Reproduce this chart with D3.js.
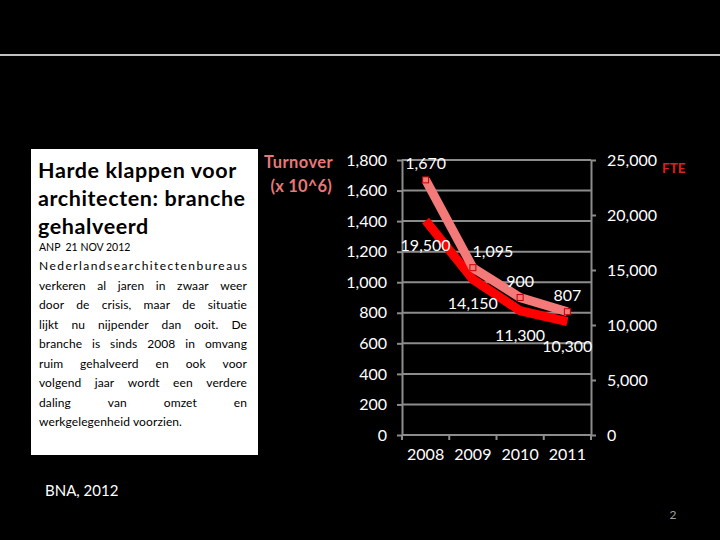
<!DOCTYPE html>
<html>
<head>
<meta charset="utf-8">
<script src="https://cdn.jsdelivr.net/npm/d3@7"></script>
<style>
  body { margin: 0; background: #000; }
  svg { display: block; }
  text { font-family: Lato, "Open Sans", sans-serif; }
</style>
</head>
<body>
<div id="chart"></div>
<script>
var width = 720,
    height = 540;

// data
var years = ["2008", "2009", "2010", "2011"];
var turnover = [1670, 1095, 900, 807];      // x 10^6
var fte = [19500, 14150, 11300, 10300];
var leftTicks = [0, 200, 400, 600, 800, 1000, 1200, 1400, 1600, 1800];
var rightTicks = [0, 5000, 10000, 15000, 20000, 25000];

var titleLines = ["Harde klappen voor", "architecten: branche", "gehalveerd"];
var byline = "ANP  21 NOV 2012";
var bodyLines = [
  "Nederlandsearchitectenbureaus",
  "verkeren al jaren in zwaar weer",
  "door de crisis, maar de situatie",
  "lijkt nu nijpender dan ooit. De",
  "branche is sinds 2008 in omvang",
  "ruim gehalveerd en ook voor",
  "volgend jaar wordt een verdere",
  "daling van omzet en",
  "werkgelegenheid voorzien."
];

var svg = d3.select("#chart")
    .append("svg")
    .attr("width", width)
    .attr("height", height);

svg.append("rect").attr("width", width).attr("height", height).attr("fill", "#000");

// top rule
svg.append("line")
    .attr("x1", 0).attr("x2", width)
    .attr("y1", 55).attr("y2", 55)
    .attr("stroke", "#fff").attr("stroke-width", 1.5);

/** text box on the left **/
var box = svg.append("g");
box.append("rect")
    .attr("x", 31).attr("y", 149)
    .attr("width", 227).attr("height", 306)
    .attr("fill", "#fff");

titleLines.forEach(function(t, i) {
  box.append("text")
      .attr("x", 38).attr("y", 178 + i * 28)
      .attr("font-size", 21.5).attr("font-weight", "bold")
      .attr("letter-spacing", 0.6)
      .attr("fill", "#000")
      .text(t);
});

box.append("text")
    .attr("x", 39).attr("y", 251)
    .attr("font-size", 10.5)
    .style("white-space", "pre")
    .attr("fill", "#000")
    .text(byline);

var bodyLeft = 39, bodyRight = 247;
bodyLines.forEach(function(line, i) {
  var y = 270 + i * 19.5;
  var words = line.split(" ");
  var style = function(sel) {
    return sel.attr("font-size", 12).attr("letter-spacing", 0.1).attr("fill", "#000");
  };
  if (i === bodyLines.length - 1) {
    style(box.append("text").attr("x", bodyLeft).attr("y", y)).text(line);
  } else if (words.length === 1) {
    style(box.append("text").attr("x", bodyLeft).attr("y", y))
        .attr("textLength", bodyRight - bodyLeft)
        .attr("lengthAdjust", "spacing")
        .text(line);
  } else {
    // justify by spreading the words
    var nodes = words.map(function(w) {
      return style(box.append("text").attr("y", y)).text(w);
    });
    var widths = nodes.map(function(n) { return n.node().getComputedTextLength(); });
    var gap = (bodyRight - bodyLeft - d3.sum(widths)) / (words.length - 1);
    var cx = bodyLeft;
    nodes.forEach(function(n, k) {
      n.attr("x", cx);
      cx += widths[k] + gap;
    });
  }
});

/** chart **/
var x = d3.scaleBand().domain(years).range([402, 591]);
var yL = d3.scaleLinear().domain([0, 1800]).range([435, 160]);
var yR = d3.scaleLinear().domain([0, 25000]).range([435, 160]);
var grey = "#8c8c8c";
var fmt = d3.format(",");

// gridlines
svg.append("g")
    .selectAll("line")
    .data(leftTicks)
    .join("line")
    .attr("x1", 402).attr("x2", 591)
    .attr("y1", function(d) { return yL(d); })
    .attr("y2", function(d) { return yL(d); })
    .attr("stroke", grey).attr("stroke-width", 2);

var axisStyle = function(g) {
  g.select(".domain").attr("stroke", grey).attr("stroke-width", 2);
  g.selectAll(".tick line").attr("stroke", grey).attr("stroke-width", 2);
  g.selectAll(".tick text")
      .attr("fill", "#fff")
      .attr("font-size", 16)
      .attr("font-family", "Lato, sans-serif");
};

svg.append("g")
    .attr("transform", "translate(402,0)")
    .call(d3.axisLeft(yL).tickValues(leftTicks).tickFormat(fmt).tickSizeInner(5).tickSizeOuter(0).tickPadding(10))
    .call(axisStyle);

svg.append("g")
    .attr("transform", "translate(591,0)")
    .call(d3.axisRight(yR).tickValues(rightTicks).tickFormat(fmt).tickSizeInner(5).tickSizeOuter(0).tickPadding(11))
    .call(axisStyle);

// x axis: labels centered, ticks at category edges
var xAxis = svg.append("g")
    .attr("transform", "translate(0,435)")
    .call(d3.axisBottom(x).tickSize(0).tickPadding(14))
    .call(axisStyle);
xAxis.selectAll(".domain").remove();
svg.append("line")
    .attr("x1", 402).attr("x2", 591).attr("y1", 435).attr("y2", 435)
    .attr("stroke", grey).attr("stroke-width", 2);
svg.append("g")
    .selectAll("line")
    .data(d3.range(years.length + 1))
    .join("line")
    .attr("x1", function(i) { return x.range()[0] + i * x.step(); })
    .attr("x2", function(i) { return x.range()[0] + i * x.step(); })
    .attr("y1", 435).attr("y2", 440)
    .attr("stroke", grey).attr("stroke-width", 2);

var cx = function(d, i) { return x(years[i]) + x.bandwidth() / 2; };

// FTE line
svg.append("path")
    .datum(fte)
    .attr("d", d3.line().x(cx).y(function(d) { return yR(d); }))
    .attr("fill", "none")
    .attr("stroke", "#ff0000")
    .attr("stroke-width", 9);

// turnover line
svg.append("path")
    .datum(turnover)
    .attr("d", d3.line().x(cx).y(function(d) { return yL(d); }))
    .attr("fill", "none")
    .attr("stroke", "#f47a7a")
    .attr("stroke-width", 9);

svg.append("g")
    .selectAll("rect")
    .data(turnover)
    .join("rect")
    .attr("x", function(d, i) { return cx(d, i) - 3; })
    .attr("y", function(d) { return yL(d) - 3; })
    .attr("width", 6).attr("height", 6)
    .attr("fill", "#f47a7a")
    .attr("stroke", "#c00000").attr("stroke-width", 1);

// data labels
var turnDx = [0, 20, 0, 0];
svg.append("g")
    .selectAll("text")
    .data(turnover)
    .join("text")
    .attr("x", function(d, i) { return cx(d, i) + turnDx[i]; })
    .attr("y", function(d) { return yL(d) - 11; })
    .attr("text-anchor", "middle")
    .attr("font-size", 16).attr("fill", "#fff")
    .text(fmt);

svg.append("g")
    .selectAll("text")
    .data(fte)
    .join("text")
    .attr("x", function(d, i) { return cx(d, i); })
    .attr("y", function(d) { return yR(d) + 30; })
    .attr("text-anchor", "middle")
    .attr("font-size", 16).attr("fill", "#fff")
    .text(fmt);

// axis titles
svg.append("text")
    .attr("x", 333).attr("y", 168)
    .attr("text-anchor", "end")
    .attr("font-size", 16.5).attr("font-weight", "bold")
    .attr("letter-spacing", 0.4)
    .attr("fill", "#e87878")
    .text("Turnover");
svg.append("text")
    .attr("x", 332).attr("y", 192)
    .attr("text-anchor", "end")
    .attr("font-size", 16.5).attr("font-weight", "bold")
    .attr("letter-spacing", 0.2)
    .attr("fill", "#e87878")
    .text("(x 10^6)");
svg.append("text")
    .attr("x", 662).attr("y", 173)
    .attr("font-size", 13.5).attr("font-weight", "bold")
    .attr("fill", "#e01e1e")
    .text("FTE");

// source and page number
svg.append("text")
    .attr("x", 45).attr("y", 496)
    .attr("font-size", 15).attr("fill", "#fff")
    .text("BNA, 2012");
svg.append("text")
    .attr("x", 673).attr("y", 519)
    .attr("text-anchor", "middle")
    .attr("font-size", 12).attr("fill", "#a0a0a0")
    .text("2");
</script>
</body>
</html>
